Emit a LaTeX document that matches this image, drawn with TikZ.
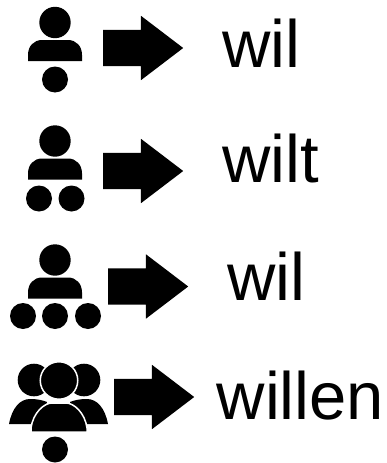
\documentclass[tikz,border=0pt]{standalone}
\usepackage{fontspec}
\setmainfont{Liberation Sans}
\usetikzlibrary{positioning, shapes.arrows}

\begin{document}
\begin{tikzpicture}[
    x=1pt, y=-1pt,
    headnode/.style={circle, fill=black, minimum size=31.4pt, inner sep=0pt},
    dotnode/.style={circle, fill=black, minimum size=26pt, inner sep=0pt},
    arrownode/.style={single arrow, anchor=tail, fill=black, minimum height=80pt, minimum width=64pt, inner xsep=0pt, inner ysep=18pt,
        single arrow head extend=14pt, single arrow tip angle=74.6, single arrow head indent=0pt},
    wordnode/.style={anchor=base west, inner sep=0pt, font=\fontsize{67}{67}\selectfont},
    bust/.pic={\fill (-27,0) -- (-27,-6) .. controls (-27,-15) and (-21,-21) .. (-13,-21) -- (13,-21)
        .. controls (21,-21) and (27,-15) .. (27,-6) -- (27,0) -- cycle;}
]
\useasboundingbox (0,0) rectangle (387,463);

% one
\node[headnode](h1) at (55,22.5){};
\pic at (55,61) {bust};
\node[dotnode](d1) at (55,79.5){};
\node[arrownode](a1) at (103,48){};
\node[wordnode](w1) at (222,67){wil};

% two
\node[headnode](h2) at (55,141){};
\pic at (55,179.5) {bust};
\node[dotnode](d2) at (39,198.5){};
\node[dotnode](d3) at (71.5,198.5){};
\node[arrownode](a2) at (103,171){};
\node[wordnode](w2) at (222,182.5){wilt};

% three
\node[headnode](h3) at (55,260){};
\pic at (55,298.5) {bust};
\node[dotnode](d4) at (23,316){};
\node[dotnode](d5) at (55,316){};
\node[dotnode](d6) at (88,316){};
\node[arrownode](a3) at (108,286.5){};
\node[wordnode](w3) at (227,300){wil};

% four
\node[circle, fill=black, minimum size=32.6pt, inner sep=0pt](h4) at (34,380){};
\node[circle, fill=black, minimum size=32.6pt, inner sep=0pt](h5) at (84,380){};
\fill (9,424) .. controls (12,408) and (20,399) .. (30,399) .. controls (37,399) and (42,400) .. (47,402) -- (40,424) -- cycle;
\fill (108,424) .. controls (105,408) and (97,399) .. (87,399) .. controls (80,399) and (75,400) .. (70,402) -- (77,424) -- cycle;
\node[circle, fill=black, draw=white, line width=1.5pt, minimum size=37.5pt, inner sep=0pt](h6) at (59,380.5){};
\filldraw[draw=white, line width=1.5pt] (31,432) -- (31,428) .. controls (33,413) and (44,403) .. (52,403) -- (66,403)
    .. controls (74,403) and (85,413) .. (87,428) -- (87,432) -- cycle;
\node[dotnode](d7) at (55,449.5){};
\node[arrownode](a4) at (114,397){};
\node[wordnode](w4) at (216.5,419){willen};
\end{tikzpicture}
\end{document}
